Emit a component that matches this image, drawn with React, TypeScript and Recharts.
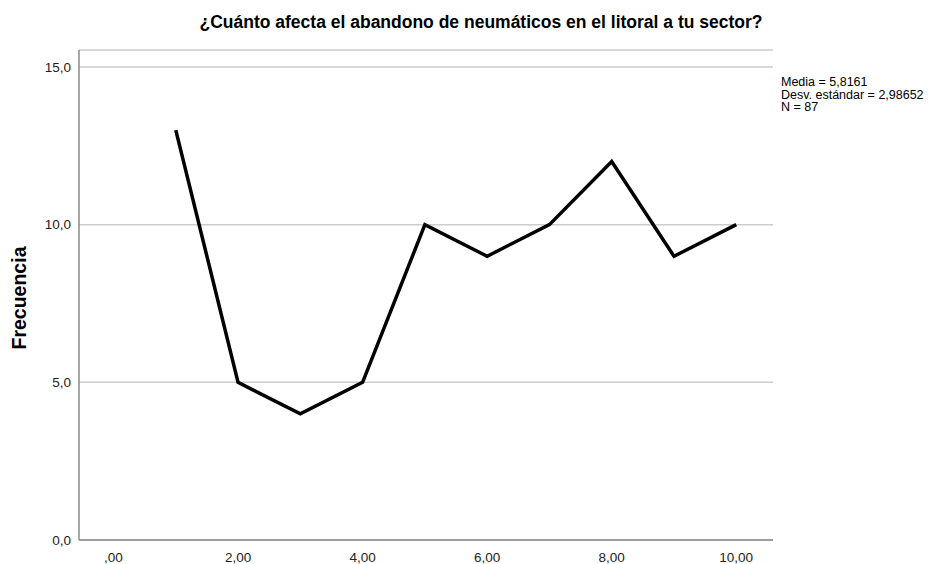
import { LineChart, Line, XAxis, YAxis, CartesianGrid } from 'recharts'

// Valores (escala 1-10, frecuencia)
const puntuaciones = [1, 2, 3, 4, 5, 6, 7, 8, 9, 10]
const frecuencias = [13, 5, 4, 5, 10, 9, 10, 12, 9, 10]
const xTicks = [0, 2, 4, 6, 8, 10]
const yTicks = [0, 5, 10, 15]
const estadisticos = ['Media = 5,8161', 'Desv. estándar = 2,98652', 'N = 87']

const titulo = '¿Cuánto afecta el abandono de neumáticos en el litoral a tu sector?'

const data = puntuaciones.map((x, i) => ({ x, f: frecuencias[i] }))

const FONT = '"Liberation Sans", Arial, sans-serif'
const fmt = (v: number, d: number) => {
  const s = v.toFixed(d).replace('.', ',')
  return s.startsWith('0,') ? s.slice(1) : s
}

export default function App() {
  return (
    <div style={{ position: 'absolute', left: 0, top: 0, width: 937, height: 564, background: '#fff', fontFamily: FONT }}>
      <LineChart width={937} height={564} data={data} margin={{ top: 50, right: 164, bottom: 0, left: 0 }}>
        <CartesianGrid vertical={false} stroke="#cccccc" strokeWidth={1.5} />
        <XAxis
          dataKey="x"
          type="number"
          domain={[-0.554, 10.59]}
          ticks={xTicks}
          tickFormatter={(v) => fmt(v, 2)}
          tickLine={false}
          tickMargin={6}
          height={24}
          stroke="#8a8a8a"
          strokeWidth={1.5}
          tick={{ fill: '#222', fontSize: 13.5, fontFamily: FONT }}
          allowDataOverflow
        />
        <YAxis
          type="number"
          domain={[0, 15.54]}
          ticks={yTicks}
          tickFormatter={(v) => (v === 0 ? '0,0' : fmt(v, 1))}
          tickLine={false}
          width={79}
          stroke="#8a8a8a"
          strokeWidth={1.5}
          tick={{ fill: '#222', fontSize: 13.5, fontFamily: FONT }}
          allowDataOverflow
        />
        <Line
          type="linear"
          dataKey="f"
          stroke="#000"
          strokeWidth={3.5}
          dot={false}
          isAnimationActive={false}
        />
      </LineChart>

      <div style={{ position: 'absolute', left: 481, top: 12, transform: 'translateX(-50%)', whiteSpace: 'nowrap', fontWeight: 'bold', fontSize: 17.5, lineHeight: '20px', color: '#000' }}>
        {titulo}
      </div>

      <div style={{ position: 'absolute', left: 18.5, top: 298, transform: 'translate(-50%, -50%) rotate(-90deg)', whiteSpace: 'nowrap', fontWeight: 'bold', fontSize: 19.5, color: '#000' }}>
        Frecuencia
      </div>

      <div style={{ position: 'absolute', left: 781, top: 76, fontSize: 12.5, lineHeight: '12.5px', color: '#000', whiteSpace: 'nowrap' }}>
        {estadisticos.map((t) => (
          <div key={t}>{t}</div>
        ))}
      </div>
    </div>
  )
}
